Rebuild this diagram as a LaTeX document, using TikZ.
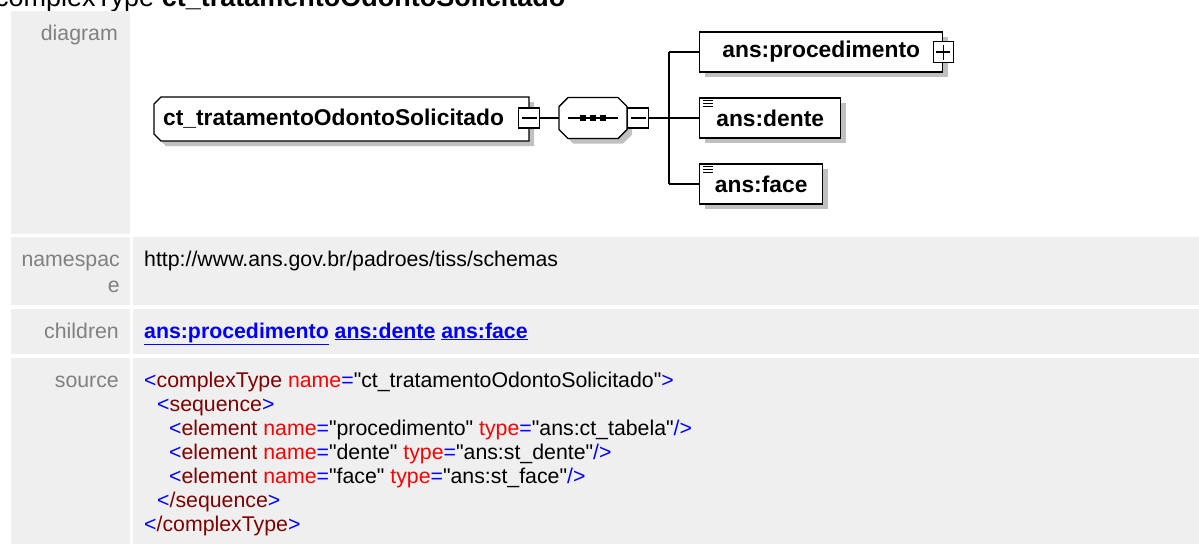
\documentclass[tikz,border=0pt]{standalone}
\usepackage{fontspec}
\setmainfont{Liberation Sans}
\usepackage{xcolor}
\usetikzlibrary{positioning, shadows}

\definecolor{cellgray}{RGB}{239,239,239}
\definecolor{labelgray}{RGB}{128,128,128}
\definecolor{shadegray}{RGB}{192,192,192}
\definecolor{tagblue}{RGB}{0,0,255}
\definecolor{tagred}{RGB}{128,0,0}
\definecolor{attrred}{RGB}{255,0,0}

\newcommand{\tagb}[1]{\textcolor{tagblue}{#1}}
\newcommand{\tagn}[1]{\textcolor{tagred}{#1}}
\newcommand{\attr}[1]{\textcolor{attrred}{#1}}
\newcommand{\qq}{\textquotedbl}
% outline of a box frame with cut corners: node, offset, west cut, east cut
\newcommand{\cutbox}[4]{([shift={(#2,#2+#3)}]#1.north west) -- ([shift={(#2+#3,#2)}]#1.north west)
    -- ([shift={(#2-#4,#2)}]#1.north east) -- ([shift={(#2,#2+#4)}]#1.north east)
    -- ([shift={(#2,#2-#4)}]#1.south east) -- ([shift={(#2-#4,#2)}]#1.south east)
    -- ([shift={(#2+#3,#2)}]#1.south west) -- ([shift={(#2,#2-#3)}]#1.south west) -- cycle}

\tikzset{
    rowlabel/.style={anchor=base east, inner sep=0pt, text=labelgray, font=\fontsize{21.3}{24}\selectfont},
    rowtext/.style={anchor=base west, inner sep=0pt, font=\fontsize{21.3}{24}\selectfont},
    boxshadow/.style={drop shadow={shadow xshift=5pt, shadow yshift=-5pt, fill=shadegray, opacity=1}},
    frame/.style={rectangle, inner sep=0pt, outer sep=0pt},
    elem/.style={draw, line width=1.4pt, fill=white, boxshadow, anchor=west, minimum height=40pt, inner sep=0pt,
        font=\bfseries\fontsize{22.8}{26}\selectfont},
    minus/.style={draw, line width=1.4pt, fill=white, minimum width=21pt, minimum height=20pt, inner sep=0pt,
        path picture={\draw[line width=1.3pt] ([xshift=3pt]path picture bounding box.west) -- ([xshift=-3pt]path picture bounding box.east);}},
    plus/.style={draw, line width=1.4pt, fill=white, minimum width=20pt, minimum height=21pt, inner sep=0pt,
        path picture={\draw[line width=1.3pt] ([xshift=3pt]path picture bounding box.west) -- ([xshift=-3pt]path picture bounding box.east);
                      \draw[line width=1.3pt] ([yshift=-3pt]path picture bounding box.north) -- ([yshift=3pt]path picture bounding box.south);}},
    wire/.style={line width=1.4pt}
}

\begin{document}
\begin{tikzpicture}[x=1pt, y=-1pt]
    \useasboundingbox (0,0) rectangle (1199,544);
    % title, cut at the top edge
    \node[anchor=base west, inner sep=0pt, font=\fontsize{27}{30}\selectfont] (title) at (-5,6)
        {complexType \textbf{ct\_tratamentoOdontoSolicitado}};

    % table cells
    \fill[cellgray] (11,11) rectangle (130,234);
    \fill[cellgray] (11,237) rectangle (130,305);
    \fill[cellgray] (133,237) rectangle (1199,305);
    \fill[cellgray] (11,309) rectangle (130,354);
    \fill[cellgray] (133,309) rectangle (1199,354);
    \fill[cellgray] (11,358) rectangle (130,544);
    \fill[cellgray] (133,358) rectangle (1199,544);

    \node[rowlabel] (lbldiag) at (118,40) {diagram};
    \node[rowlabel] (lblns) at (120,266) {namespac};
    \node[rowlabel] (lblns2) at (120,292) {e};
    \node[rowlabel] (lblchild) at (119,338) {children};
    \node[rowlabel] (lblsrc) at (119,387) {source};

    % diagram
    \node[frame, minimum width=375pt, minimum height=44pt] (root) at (341.5,119) {};
    \fill[shadegray] \cutbox{root}{5}{7}{0};
    \filldraw[fill=white, wire] \cutbox{root}{0}{7}{0};
    \node[anchor=base west, inner sep=0pt, font=\bfseries\fontsize{22.8}{26}\selectfont] (roottxt) at (163,125)
        {ct\_tratamentoOdontoSolicitado};

    \node[frame, minimum width=68pt, minimum height=41pt] (seq) at (593,118) {};
    \fill[shadegray] \cutbox{seq}{5}{9}{9};
    \filldraw[fill=white, wire] \cutbox{seq}{0}{9}{9};
    \node[minus] (rootm) at (root.east |- seq.center) {};
    \node[minus, anchor=west] (seqm) at (seq.east) {};
    \draw[wire] ([xshift=9pt]seq.west) -- ([xshift=-9pt]seq.east);
    \foreach \dx in {-10,0,10}
        \fill ([xshift=\dx pt]seq.center) +(-2.6,-2.6) rectangle +(2.6,2.6);
    \draw[wire] (rootm.east) -- (seq.west);

    \node[elem, minimum width=243pt] (proc) at (699,52) {ans:procedimento};
    \node[plus] (procp) at (proc.east) {};
    \node[elem, minimum width=141pt] (dente) at (699,118) {ans:dente};
    \node[elem, minimum width=123pt] (face) at (699,184) {ans:face};
    \foreach \b in {dente,face}
        \foreach \k in {0,3,6}
            \draw[line width=1pt] ([shift={(4,3.5+\k)}]\b.north west) -- ++(10,0);

    \coordinate (bus) at (669,118);
    \draw[wire] (seqm.east) -- (bus);
    \draw[wire] (bus |- proc.west) -- (bus |- face.west);
    \foreach \c in {proc,dente,face}
        \draw[wire] (bus |- \c.west) -- (\c.west);

    % namespace and children
    \node[rowtext] (ns) at (144,266) {http://www.ans.gov.br/padroes/tiss/schemas};
    \node[rowtext, text=tagblue, font=\bfseries\fontsize{21.3}{24}\selectfont] (kids) at (144,338)
        {\underline{ans:procedimento} \underline{ans:dente} \underline{ans:face}};

    % source
    \node[rowtext] (src1) at (144,387) {\tagb{<}\tagn{complexType} \attr{name}\tagb{=}\qq ct\_tratamentoOdontoSolicitado\qq\tagb{>}};
    \node[rowtext] (src2) at (157,411) {\tagb{<}\tagn{sequence}\tagb{>}};
    \node[rowtext] (src3) at (169,435) {\tagb{<}\tagn{element} \attr{name}\tagb{=}\qq procedimento\qq\ \attr{type}\tagb{=}\qq ans:ct\_tabela\qq\tagb{/>}};
    \node[rowtext] (src4) at (169,459) {\tagb{<}\tagn{element} \attr{name}\tagb{=}\qq dente\qq\ \attr{type}\tagb{=}\qq ans:st\_dente\qq\tagb{/>}};
    \node[rowtext] (src5) at (169,483) {\tagb{<}\tagn{element} \attr{name}\tagb{=}\qq face\qq\ \attr{type}\tagb{=}\qq ans:st\_face\qq\tagb{/>}};
    \node[rowtext] (src6) at (157,507) {\tagb{<}\tagn{/sequence}\tagb{>}};
    \node[rowtext] (src7) at (144,531) {\tagb{<}\tagn{/complexType}\tagb{>}};
\end{tikzpicture}
\end{document}
